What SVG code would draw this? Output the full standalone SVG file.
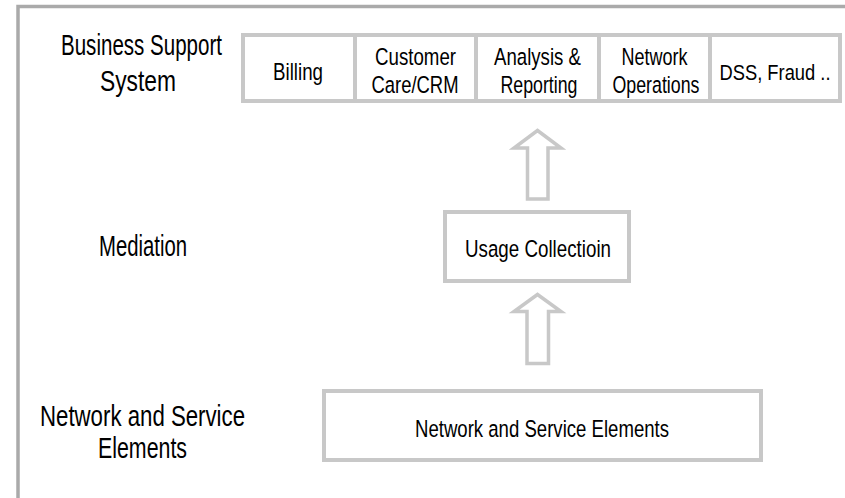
<svg xmlns="http://www.w3.org/2000/svg" width="845" height="498" viewBox="0 0 845 498">
<style>
text{font-family:"Liberation Sans",Arial,sans-serif;fill:#000;text-anchor:middle}
.lbl{font-size:29px}
.bx{font-size:24.5px}
.box{fill:#fff;stroke:#c8c8c8;stroke-width:4}
.arr{fill:#fff;stroke:#c8c8c8;stroke-width:3.5;stroke-linejoin:miter}
.frame{fill:none;stroke:#aaaaaa;stroke-width:3.5}
</style>
<rect width="845" height="498" fill="#fff"/>
<path class="frame" d="M18,498 L18,6.5 L845,6.5"/>
<g id="label-bss">
<text class="lbl" x="141.5" y="55" textLength="161" lengthAdjust="spacingAndGlyphs">Business Support</text>
<text class="lbl" x="138" y="91" textLength="76" lengthAdjust="spacingAndGlyphs">System</text>
</g>
<g id="label-mediation">
<text class="lbl" x="143" y="255.5" textLength="88" lengthAdjust="spacingAndGlyphs">Mediation</text>
</g>
<g id="label-nse">
<text class="lbl" x="142.5" y="426" textLength="205" lengthAdjust="spacingAndGlyphs">Network and Service</text>
<text class="lbl" x="142.5" y="458" textLength="89" lengthAdjust="spacingAndGlyphs">Elements</text>
</g>
<g id="bss">
<rect class="box" x="243" y="35" width="597" height="66"/>
<g stroke="#c8c8c8" stroke-width="4">
<line x1="355" y1="35" x2="355" y2="101"/>
<line x1="476" y1="35" x2="476" y2="101"/>
<line x1="599" y1="35" x2="599" y2="101"/>
<line x1="710" y1="35" x2="710" y2="101"/>
</g>
</g>
<g id="billing"><text class="bx" x="298" y="79.5" textLength="50" lengthAdjust="spacingAndGlyphs">Billing</text></g>
<g id="crm">
<text class="bx" x="415.5" y="65" textLength="81" lengthAdjust="spacingAndGlyphs">Customer</text>
<text class="bx" x="415" y="93" textLength="87" lengthAdjust="spacingAndGlyphs">Care/CRM</text>
</g>
<g id="analysis">
<text class="bx" x="537.5" y="65" textLength="87" lengthAdjust="spacingAndGlyphs">Analysis &amp;</text>
<text class="bx" x="539" y="93" textLength="77" lengthAdjust="spacingAndGlyphs">Reporting</text>
</g>
<g id="netops">
<text class="bx" x="654.5" y="65" textLength="66" lengthAdjust="spacingAndGlyphs">Network</text>
<text class="bx" x="656" y="93" textLength="87" lengthAdjust="spacingAndGlyphs">Operations</text>
</g>
<g id="dss"><text x="775" y="80" style="font-size:22.5px" textLength="111" lengthAdjust="spacingAndGlyphs">DSS, Fraud ..</text></g>
<g id="usage">
<rect class="box" x="445" y="212" width="184" height="69"/>
<text class="bx" x="538" y="257" textLength="146" lengthAdjust="spacingAndGlyphs">Usage Collectioin</text>
</g>
<g id="elements">
<rect class="box" x="324" y="391" width="437" height="69"/>
<text class="bx" x="542" y="437" textLength="254" lengthAdjust="spacingAndGlyphs">Network and Service Elements</text>
</g>
<g id="connectors">
<path class="arr" d="M537.5,130.5 L561,148 L548,148 L548,199 L527.5,199 L527.5,148 L514,148 Z"/>
<path class="arr" d="M537.5,294.5 L561,311.5 L548.5,311.5 L548.5,363.5 L527,363.5 L527,311.5 L514,311.5 Z"/>
</g>
</svg>
